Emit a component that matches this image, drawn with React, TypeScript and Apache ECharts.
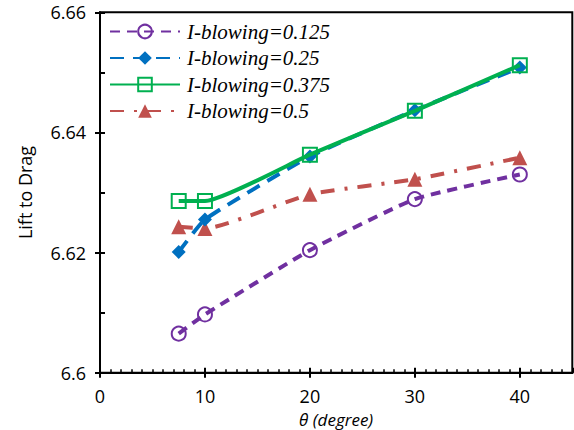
import React, { useEffect, useRef } from "react";
import * as echarts from "echarts";

// Blowing angle (degrees) and lift-to-drag ratio for each blowing coefficient
const theta = [7.5, 10, 20, 30, 40];
const ib0125 = [6.6065, 6.6097, 6.6204, 6.6289, 6.633];
const ib025 = [6.6201, 6.6255, 6.636, 6.6437, 6.6508];
const ib0375 = [6.6286, 6.6286, 6.6363, 6.6436, 6.6512];
const ib05 = [6.6243, 6.624, 6.6297, 6.6322, 6.6358];

const seriesNames = ["I-blowing=0.125", "I-blowing=0.25", "I-blowing=0.375", "I-blowing=0.5"];

const pairs = (ys: number[]) => theta.map((x, i) => [x, ys[i]]);

export default function App() {
  const ref = useRef<HTMLDivElement>(null);

  useEffect(() => {
    if (!ref.current) return;
    const chart = echarts.init(ref.current, null, { renderer: "svg" });
    const sans = "Open Sans";

    chart.setOption({
      animation: false,
      backgroundColor: "#ffffff",
      grid: {
        left: 100,
        right: 1.7,
        top: 12.3,
        bottom: 57.3,
        outerBoundsMode: "none",
        containLabel: false,
        show: true,
        borderColor: "#000",
        borderWidth: 2,
        backgroundColor: "transparent",
      },
      legend: {
        left: 109,
        top: 21,
        padding: 0,
        orient: "vertical",
        itemWidth: 70,
        itemHeight: 17,
        itemGap: 5.5,
        data: seriesNames,
        textStyle: {
          fontFamily: "Liberation Serif",
          fontStyle: "italic",
          fontSize: 21,
          lineHeight: 20,
          color: "#000",
          padding: [0, 0, 0, 2],
        },
      },
      xAxis: [
        {
          type: "value",
          min: 0,
          max: 45,
          interval: 10,
          position: "bottom",
          name: "θ (degree)",
          nameLocation: "middle",
          nameGap: 27,
          nameTextStyle: {
            fontFamily: sans,
            fontStyle: "italic",
            fontSize: 17,
            lineHeight: 20,
            color: "#000",
          },
          axisLine: { lineStyle: { color: "#000", width: 2 } },
          axisTick: { inside: false, length: 5, lineStyle: { color: "#000", width: 2 } },
          axisLabel: {
            showMaxLabel: false,
            margin: 14,
            fontFamily: sans,
            fontSize: 18,
            color: "#000",
          },
          splitLine: { show: false },
        },
        {
          type: "value",
          min: 0,
          max: 45,
          interval: 10,
          position: "bottom",
          axisLine: { show: false },
          axisTick: { inside: true, length: 5, lineStyle: { color: "#000", width: 2 } },
          axisLabel: { show: false },
          splitLine: { show: false },
        },
        {
          type: "value",
          min: 0,
          max: 45,
          interval: 1,
          position: "bottom",
          axisLine: { show: false },
          axisTick: { inside: true, length: 3.5, lineStyle: { color: "#000", width: 1.5 } },
          axisLabel: { show: false },
          splitLine: { show: false },
        },
      ],
      yAxis: [
        {
          type: "value",
          min: 6.6,
          max: 6.66,
          interval: 0.02,
          position: "left",
          name: "Lift to Drag",
          nameLocation: "middle",
          nameGap: 66,
          nameTextStyle: { fontFamily: sans, fontSize: 18, color: "#000" },
          axisLine: { lineStyle: { color: "#000", width: 2 } },
          axisTick: { inside: false, length: 5, lineStyle: { color: "#000", width: 2 } },
          axisLabel: {
            margin: 14,
            fontFamily: sans,
            fontSize: 18,
            color: "#000",
            formatter: (v: number) => String(Math.round(v * 100) / 100),
          },
          splitLine: { show: false },
        },
        {
          type: "value",
          min: 6.6,
          max: 6.66,
          interval: 0.01,
          position: "left",
          axisLine: { show: false },
          axisTick: { inside: true, length: 5, lineStyle: { color: "#000", width: 2 } },
          axisLabel: { show: false },
          splitLine: { show: false },
        },
      ],
      series: [
        {
          name: seriesNames[0],
          type: "line",
          data: pairs(ib0125),
          smooth: 0.15,
          symbol: "circle",
          symbolSize: 14,
          lineStyle: { color: "#7030A0", width: 4, type: [10, 7] },
          itemStyle: { color: "rgba(255,255,255,0)", borderColor: "#7030A0", borderWidth: 2 },
          z: 2,
        },
        {
          name: seriesNames[1],
          type: "line",
          data: pairs(ib025),
          smooth: 0.15,
          symbol: "diamond",
          symbolSize: 14,
          lineStyle: { color: "#0070C0", width: 4, type: [14, 9] },
          itemStyle: { color: "#0070C0", borderColor: "#0070C0", borderWidth: 0 },
          z: 3,
        },
        {
          name: seriesNames[2],
          type: "line",
          data: pairs(ib0375),
          smooth: 0.15,
          symbol: "rect",
          symbolSize: 14,
          lineStyle: { color: "#00B050", width: 4 },
          itemStyle: { color: "rgba(255,255,255,0)", borderColor: "#00B050", borderWidth: 2 },
          z: 4,
        },
        {
          name: seriesNames[3],
          type: "line",
          data: pairs(ib05),
          smooth: 0.15,
          symbol: "triangle",
          symbolSize: 15,
          lineStyle: { color: "#C0504D", width: 4, type: [14, 10, 3, 10] },
          itemStyle: { color: "#C0504D", borderColor: "#C0504D", borderWidth: 0 },
          z: 2,
        },
      ],
    });

    return () => chart.dispose();
  }, []);

  return (
    <div
      ref={ref}
      style={{ position: "fixed", left: 0, top: 0, width: 574, height: 430 }}
    />
  );
}
